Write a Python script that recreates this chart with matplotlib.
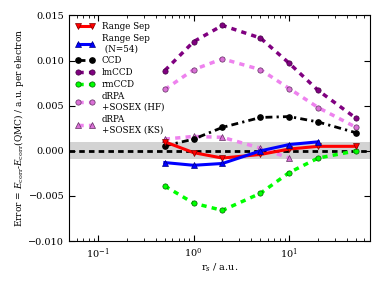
import matplotlib
matplotlib.use("Agg")
import matplotlib.pyplot as plt
import numpy as np

# r_s values (a.u.)
rs = [0.5, 1, 2, 5, 10, 20, 50]
rs_n54 = [0.5, 1, 2, 5, 10, 20]
rs_ks = [0.5, 1, 2, 5, 10]

# errors, a.u. per electron
range_sep = [0.0010, -0.0002, -0.0008, -0.0004, 0.0002, 0.0005, 0.0005]
range_sep_n54 = [-0.0013, -0.0016, -0.0014, 0.0000, 0.0007, 0.0010]
ccd = [0.00055, 0.0013, 0.0026, 0.0037, 0.0038, 0.0032, 0.0020]
lmccd = [0.0089, 0.0121, 0.0139, 0.0125, 0.0097, 0.0067, 0.0036]
rmccd = [-0.0039, -0.0058, -0.0066, -0.0047, -0.0024, -0.0008, 0.0000]
sosex_hf = [0.0068, 0.0090, 0.0102, 0.0090, 0.0069, 0.0048, 0.0026]
sosex_ks = [0.0013, 0.0016, 0.0015, 0.0003, -0.0008]

band = 0.00095

plt.rcParams["font.family"] = "DejaVu Serif"
plt.rcParams["mathtext.fontset"] = "dejavuserif"

fig = plt.figure(figsize=(3.82, 2.87), dpi=100)
ax = fig.add_axes([0.181, 0.160, 0.788, 0.786])

ax.axhspan(-band, band, color="#d3d3d3", lw=0, zorder=0)
ax.axhline(0, color="black", ls="--", lw=2, dashes=(2, 1.5), zorder=1)

ms = 3.8
ax.plot(rs, range_sep, color="red", ls="-", lw=2.2, marker="v", ms=ms,
        mfc="red", mec="#800000", mew=0.5, label="Range Sep", zorder=5)
ax.plot(rs_n54, range_sep_n54, color="blue", ls="-", lw=2.2, marker="^", ms=ms,
        mfc="blue", mec="#000080", mew=0.5, label="Range Sep\n (N=54)", zorder=5)
ax.plot(rs, ccd, color="black", ls=(0, (2.5, 1.5, 0.8, 1.5)), lw=2, marker="o", ms=ms,
        label="CCD", zorder=4)
ax.plot(rs, lmccd, color="purple", ls=(0, (1.5, 1.5)), lw=2.5, marker="o", ms=ms,
        mec="#400040", mew=0.5, label="lmCCD", zorder=4)
ax.plot(rs, rmccd, color="lime", ls=(0, (1.5, 1.5)), lw=2.5, marker="o", ms=ms,
        mec="#006000", mew=0.5, label="rmCCD", zorder=4)
ax.plot(rs, sosex_hf, color="violet", ls=(0, (1.5, 1.5)), lw=2.5, marker="o", ms=ms,
        mfc="orchid", mec="#603060", mew=0.5, label="dRPA\n+SOSEX (HF)", zorder=3)
ax.plot(rs_ks, sosex_ks, color="violet", ls=(0, (1.5, 1.5)), lw=2.5, marker="^", ms=ms,
        mfc="orchid", mec="#603060", mew=0.5, label="dRPA\n+SOSEX (KS)", zorder=3)

ax.set_xscale("log")
ax.set_xlim(0.05, 70)
ax.set_ylim(-0.010, 0.015)
ax.set_yticks([-0.010, -0.005, 0.000, 0.005, 0.010, 0.015])
ax.set_yticklabels(["\u22120.010", "\u22120.005", "0.000", "0.005", "0.010", "0.015"])
ax.tick_params(which="both", direction="in", top=True, right=True, labelsize=7)
ax.tick_params(which="major", length=4)
ax.tick_params(which="minor", length=2)

ax.set_xlabel("r$_s$ / a.u.", fontsize=7, labelpad=1)
ax.set_ylabel("Error = $E_{\\rm corr}$-$E_{\\rm corr}$(QMC) / a.u. per electron",
              fontsize=6.5, labelpad=2)

ax.legend(loc="upper left", frameon=False, fontsize=6.3, numpoints=2,
          handlelength=2.2, labelspacing=0.35, borderaxespad=0.3,
          bbox_to_anchor=(0.0, 1.0))

fig.savefig("out.png", dpi=100)
